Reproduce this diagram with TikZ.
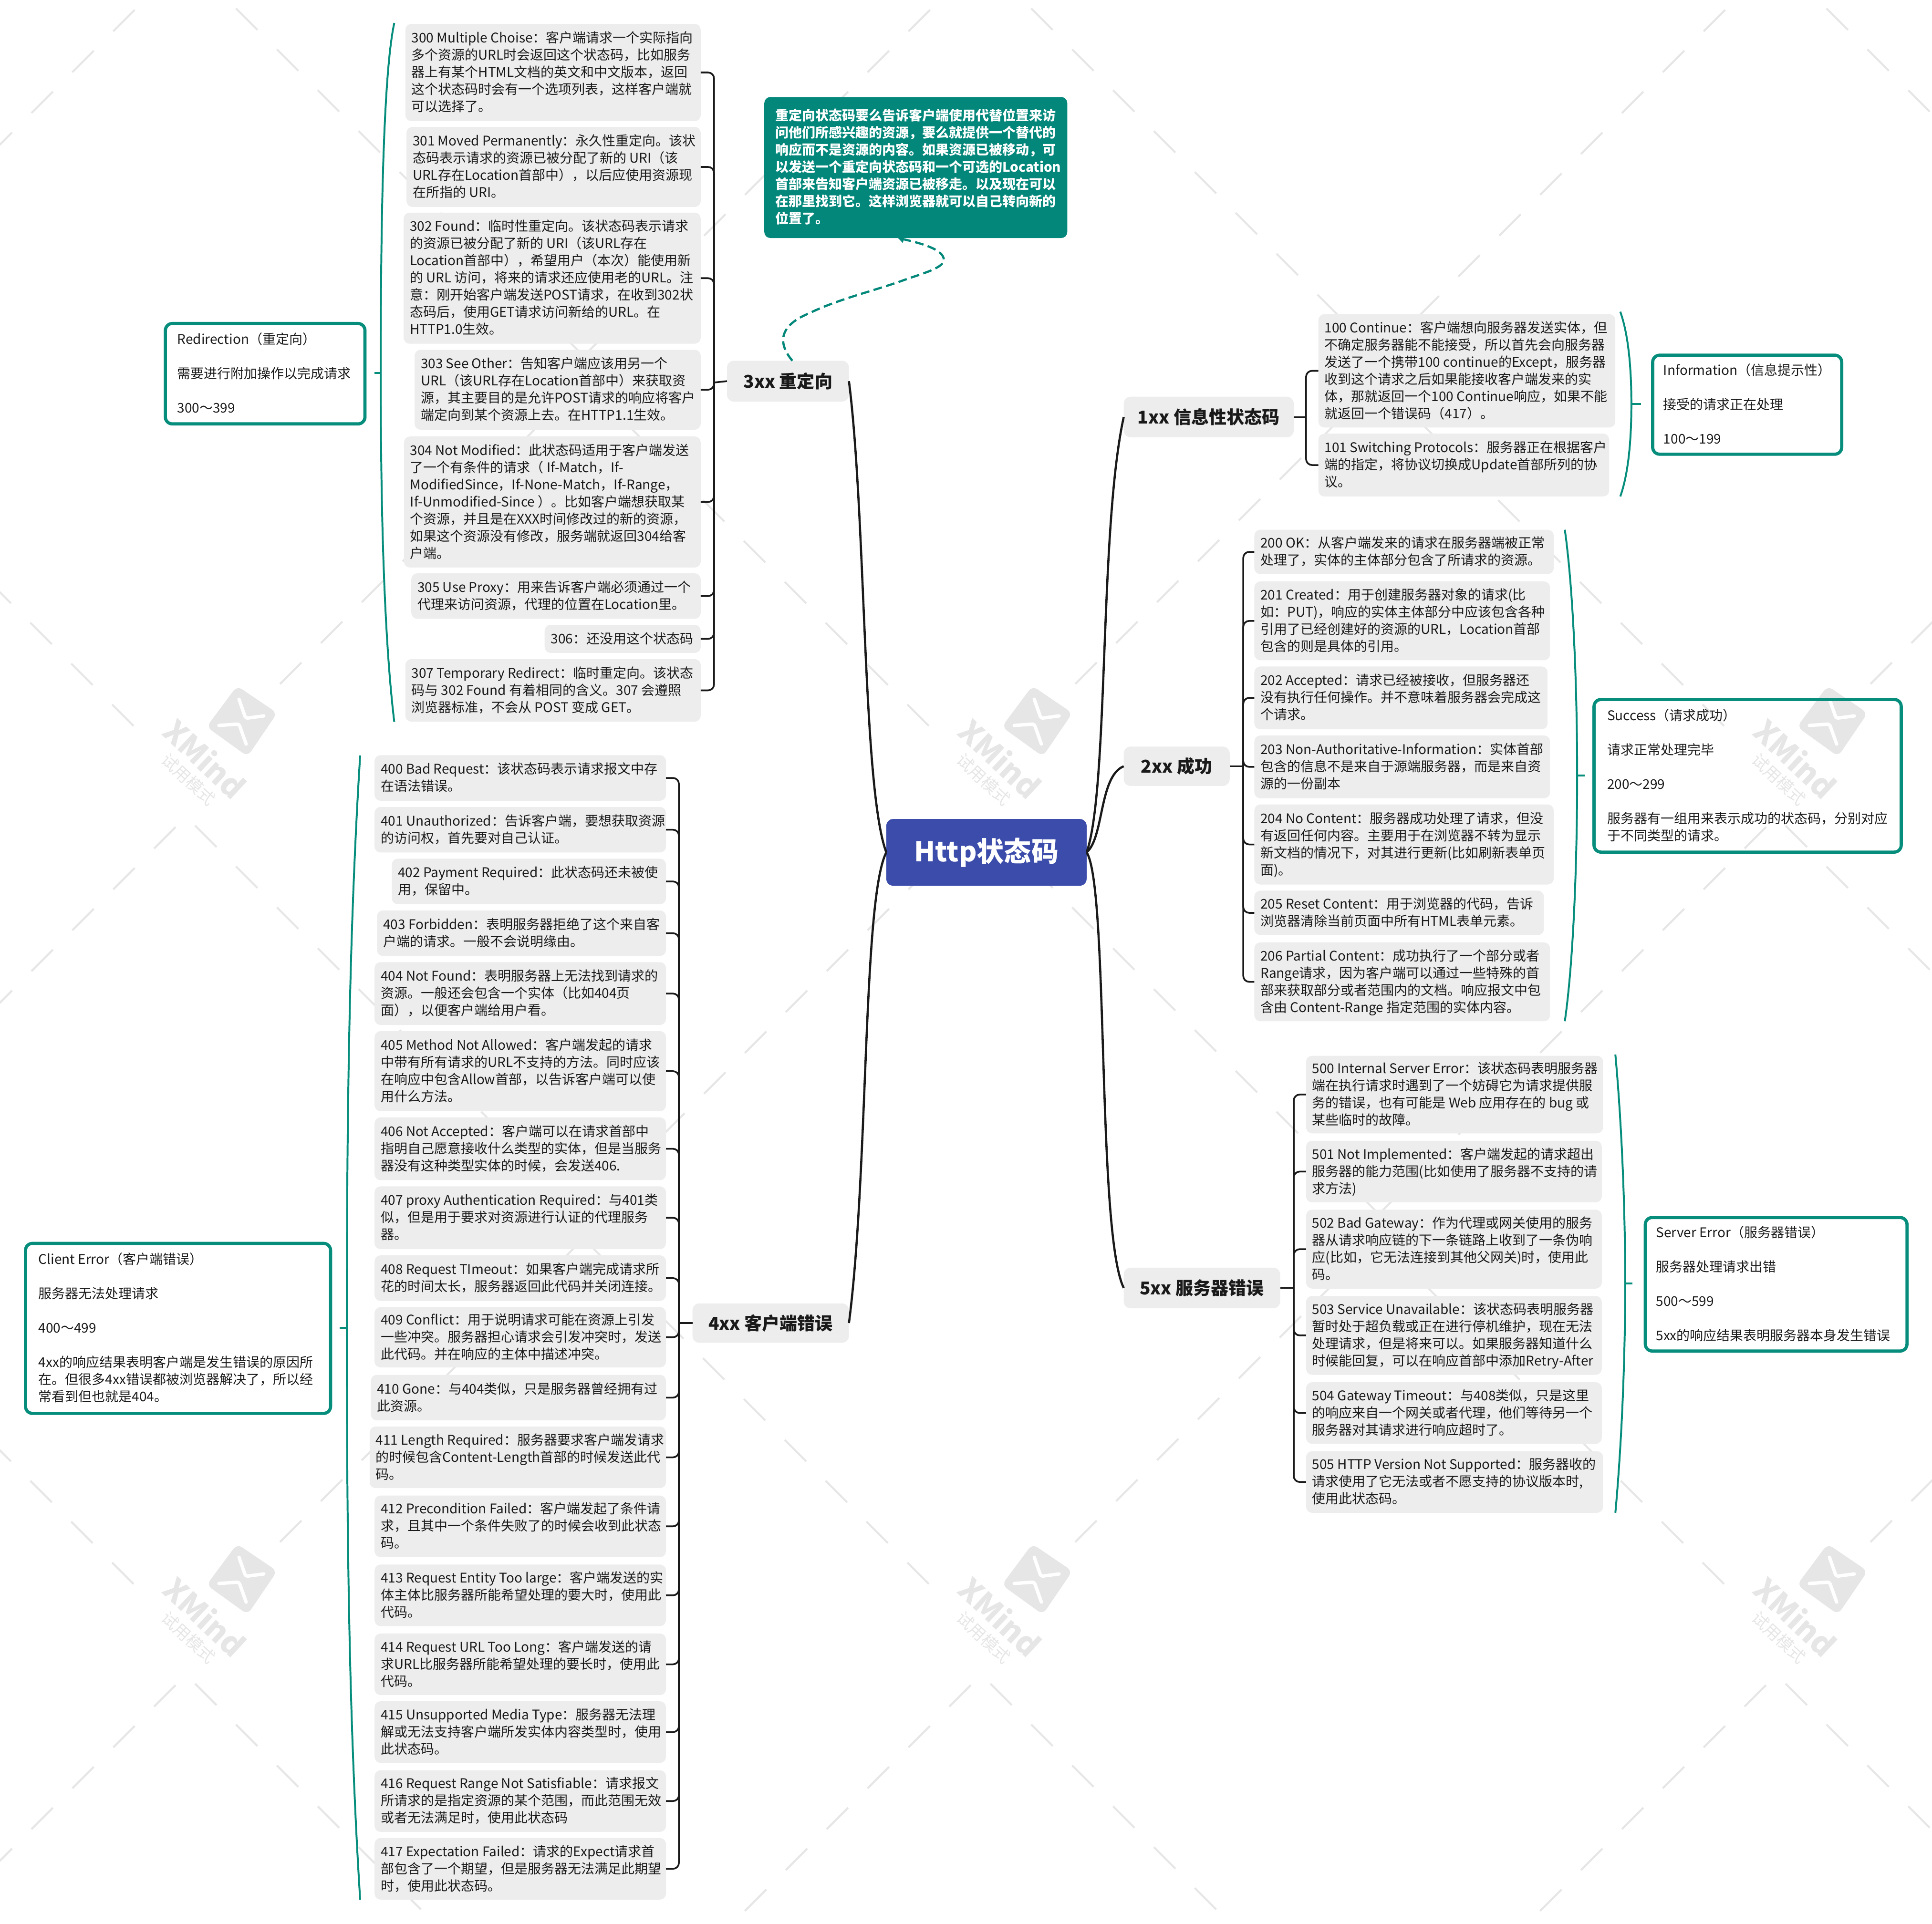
\documentclass[tikz,border=0pt]{standalone}
\usepackage{fontspec}
\setmainfont{Noto Sans CJK SC}
\usetikzlibrary{arrows.meta}
\definecolor{tealx}{HTML}{068D7C}
\definecolor{notebg}{HTML}{02877A}
\definecolor{leafbg}{HTML}{EDEDED}
\definecolor{ink}{HTML}{1A1A1A}
\definecolor{royal}{HTML}{3B4CAB}
\definecolor{wmgray}{HTML}{E6E6E6}
\tikzset{
  leafbox/.style={fill=leafbg,rounded corners=3pt,inner sep=0pt,outer sep=0pt,text=ink,font=\fontsize{6.72}{8.64}\selectfont},
  sumbox/.style={draw=tealx,line width=1.6pt,rounded corners=3.5pt,inner sep=0pt,outer sep=0pt,text=ink,font=\fontsize{6.72}{8.64}\selectfont},
  notebox/.style={fill=notebg,rounded corners=3pt,inner sep=0pt,outer sep=0pt,text=white,font=\bfseries\fontsize{6.72}{8.64}\selectfont},
  branchbox/.style={fill=leafbg,rounded corners=3.5pt,inner sep=0pt,outer sep=0pt,text=ink,font=\bfseries\fontsize{8.9}{11}\selectfont},
  rootbox/.style={fill=royal,rounded corners=3.5pt,inner sep=0pt,outer sep=0pt,text=white,font=\bfseries\fontsize{13.7}{16}\selectfont},
  mainlink/.style={draw=ink,line width=1.1pt},
  sublink/.style={draw=ink,line width=0.86pt,rounded corners=3pt},
  bracket/.style={draw=tealx,line width=0.95pt},
  wmline/.style={draw=wmgray,line width=1pt},
  relation/.style={draw=notebg,line width=1.1pt,dash pattern=on 4.4pt off 2.2pt},
}
\newcommand\tbox[8][5]{%
  \pgfmathsetmacro\boxcx{(#4+#6)/2}%
  \pgfmathsetmacro\boxcy{(#5+#7)/2}%
  \pgfmathsetlengthmacro\boxw{(#6-#4)*0.6199pt}%
  \pgfmathsetlengthmacro\boxh{(#7-#5)*0.6199pt}%
  \pgfmathsetlengthmacro\boxin{(#6-#4-2*#1)*0.6199pt}%
  \node[#2,minimum width=\boxw,minimum height=\boxh] (#3) at (\boxcx,\boxcy)
    {\vbox{\kern1.2pt\hbox{\makebox[\boxin][l]{\begin{tabular}{@{}l@{}}#8\end{tabular}}}}};%
}
\newcommand\cbox[7]{%
  \pgfmathsetmacro\boxcx{(#3+#5)/2}%
  \pgfmathsetmacro\boxcy{(#4+#6)/2}%
  \pgfmathsetlengthmacro\boxw{(#5-#3)*0.6199pt}%
  \pgfmathsetlengthmacro\boxh{(#6-#4)*0.6199pt}%
  \node[#1,minimum width=\boxw,minimum height=\boxh] (#2) at (\boxcx,\boxcy) {#7};%
}
\begin{document}
\begin{tikzpicture}[x=0.6199pt,y=-0.6199pt]
\useasboundingbox (0,0) rectangle (1568,1561.8);
% watermark
\begin{scope}[x=0.24pt,y=-0.24pt]
\clip (0,0) rectangle (4050,4034);
\foreach \cx in {390,2057,3724}{
  \foreach \ly in {-87,1712,3511}{
    \foreach \k in {0,...,9}{
      \draw[wmline] ({\cx+19+85.7*\k},{\ly+19+85.7*\k}) -- ++(45,45);
      \draw[wmline] ({\cx-22-85.7*\k},{\ly+22+85.7*\k}) -- ++(-45,45);
    }
  }
  \foreach \uy in {1632,3431}{
    \foreach \k in {0,...,8}{
      \draw[wmline] ({\cx-110-85.7*\k},{\uy-110-85.7*\k}) -- ++(-45,-45);
    }
    \foreach \k in {0,...,7}{
      \draw[wmline] ({\cx+197+85.7*\k},{\uy-198-85.7*\k}) -- ++(45,-45);
    }
    \pgfmathsetmacro\mx{\cx+117}
    \pgfmathsetmacro\my{\uy-120}
    \begin{scope}[shift={(\mx,\my)}]
      \fill[wmgray,rounded corners=3pt] (-10,-74) -- (74,-17) -- (12,74) -- (-74,12) -- cycle;
      \draw[white,line width=1.7pt,line cap=round,line join=round,rounded corners=1pt] (-6,-46) -- (8,-6) -- (46,-11);
      \draw[white,line width=1.7pt,line cap=round,line join=round,rounded corners=1pt] (-48,9) -- (-6,6) -- (9,48);
      \node[text=wmgray,rotate=-43,inner sep=0pt,font=\bfseries\fontsize{15.5}{16}\selectfont] (wmname\cx\uy) at (-77,78) {XMind};
      \node[text=wmgray,rotate=-43,inner sep=0pt,font=\fontsize{8.3}{10}\selectfont] (wmtag\cx\uy) at (-112,122) {试用模式};
    \end{scope}
  }
}
\end{scope}

% root and branches
\cbox{rootbox}{root}{719.3}{664.8}{881.9}{719}{Http状态码}
\cbox{branchbox}{bthree}{590}{292.8}{689}{326}{3xx 重定向}
\cbox{branchbox}{bfour}{562}{1058}{689}{1090}{4xx 客户端错误}
\cbox{branchbox}{bone}{912}{322}{1050}{355}{1xx 信息性状态码}
\cbox{branchbox}{btwo}{912}{606}{998}{638}{2xx 成功}
\cbox{branchbox}{bfive}{912}{1029}{1039}{1062}{5xx 服务器错误}

\draw[mainlink] (root.west) .. controls (700,640) and (703,420) .. (bthree.east);
\draw[mainlink] (root.west) .. controls (700,730) and (705,950) .. (bfour.east);
\draw[mainlink] (root.east) .. controls (900,640) and (892,430) .. (bone.west);
\draw[mainlink] (root.east) .. controls (896,680) and (892,630) .. (btwo.west);
\draw[mainlink] (root.east) .. controls (900,720) and (890,1000) .. (bfive.west);

% 3xx leaves
\tbox{leafbox}{l300}{329}{19.4}{568.7}{98.3}{300 Multiple Choise：客户端请求一个实际指向\\多个资源的URL时会返回这个状态码，比如服务\\器上有某个HTML文档的英文和中文版本，返回\\这个状态码时会有一个选项列表，这样客户端就\\可以选择了。}
\tbox{leafbox}{l301}{329.9}{103}{568.7}{168}{301 Moved Permanently：永久性重定向。该状\\态码表示请求的资源已被分配了新的 URI（该\\URL存在Location首部中），以后应使用资源现\\在所指的 URI。}
\tbox{leafbox}{l302}{327.6}{172.6}{568.7}{279}{302 Found：临时性重定向。该状态码表示请求\\的资源已被分配了新的 URI（该URL存在\\Location首部中），希望用户（本次）能使用新\\的 URL 访问，将来的请求还应使用老的URL。注\\意：刚开始客户端发送POST请求，在收到302状\\态码后，使用GET请求访问新给的URL。在\\HTTP1.0生效。}
\tbox{leafbox}{l303}{336.5}{283.9}{568.7}{348.8}{303 See Other：告知客户端应该用另一个\\URL（该URL存在Location首部中）来获取资\\源，其主要目的是允许POST请求的响应将客户\\端定向到某个资源上去。在HTTP1.1生效。}
\tbox{leafbox}{l304}{327.9}{354.3}{568.7}{460.7}{304 Not Modified：此状态码适用于客户端发送\\了一个有条件的请求（ If-Match，If-\\ModifiedSince，If-None-Match，If-Range，\\If-Unmodified-Since ）。比如客户端想获取某\\个资源，并且是在XXX时间修改过的新的资源，\\如果这个资源没有修改，服务端就返回304给客\\户端。}
\tbox{leafbox}{l305}{333.8}{465.4}{568.7}{502.3}{305 Use Proxy：用来告诉客户端必须通过一个\\代理来访问资源，代理的位置在Location里。}
\tbox{leafbox}{l306}{442}{507.2}{568.7}{530}{306：还没用这个状态码}
\tbox{leafbox}{l307}{329}{535}{568.7}{585.8}{307 Temporary Redirect：临时重定向。该状态\\码与 302 Found 有着相同的含义。307 会遵照\\浏览器标准，不会从 POST 变成 GET。}
\coordinate (hthree) at (579.5,310.5);
\foreach \n in {l300,l301,l302,l303,l304,l305,l306,l307}{\draw[sublink] (\n.east) -| (hthree);}
\draw[sublink] (hthree) -- (bthree.west);

% note
\tbox[9]{notebox}{note}{620.3}{78.8}{866.2}{193.2}{重定向状态码要么告诉客户端使用代替位置来访\\问他们所感兴趣的资源，要么就提供一个替代的\\响应而不是资源的内容。如果资源已被移动，可\\以发送一个重定向状态码和一个可选的Location\\首部来告知客户端资源已被移走。以及现在可以\\在那里找到它。这样浏览器就可以自己转向新的\\位置了。}
\draw[relation,-{Triangle[length=3pt,width=3.6pt,fill=notebg]}] ([xshift=2.2pt]bthree.north) .. controls (634,282) and (628,266) .. (656.9,254.2) .. controls (680,243) and (706,237) .. (731,228.3) .. controls (745,223) and (766,218) .. (766,211) .. controls (766,203) and (750,198) .. ([xshift=-9pt]note.south);

% redirection summary
\tbox[9.7]{sumbox}{sthree}{134.2}{262.6}{296.2}{344.1}{Redirection（重定向）\\\\需要进行附加操作以完成请求\\\\300～399}
\coordinate (bkthree) at (309,302.7);
\coordinate (tkthree) at (304,302.7);
\draw[bracket] (320,18.6) .. controls (311,60) and (309,180) .. (bkthree) .. controls (309,420) and (312,520) .. (320,586);
\draw[bracket] (bkthree) -- (tkthree);

% 1xx
\tbox{leafbox}{l100}{1070}{255}{1311}{347}{100 Continue：客户端想向服务器发送实体，但\\不确定服务器能不能接受，所以首先会向服务器\\发送了一个携带100 continue的Except，服务器\\收到这个请求之后如果能接收客户端发来的实\\体，那就返回一个100 Continue响应，如果不能\\就返回一个错误码（417）。}
\tbox{leafbox}{l101}{1070}{352}{1306}{403}{101 Switching Protocols：服务器正在根据客户\\端的指定，将协议切换成Update首部所列的协\\议。}
\coordinate (hone) at (1060,338.5);
\foreach \n in {l100,l101}{\draw[sublink] (\n.west) -| (hone);}
\draw[sublink] (hone) -- (bone.east);
\tbox[8.7]{sumbox}{sone}{1341.3}{288.3}{1494.7}{368.7}{Information（信息提示性）\\\\接受的请求正在处理\\\\100～199}
\coordinate (bkone) at (1324,328);
\coordinate (tkone) at (1332,328);
\draw[bracket] (1315,253) .. controls (1321,270) and (1324,295) .. (bkone) .. controls (1324,361) and (1321,386) .. (1315,403);
\draw[bracket] (bkone) -- (tkone);

% 2xx
\tbox{leafbox}{l200}{1018}{430}{1261}{466}{200 OK：从客户端发来的请求在服务器端被正常\\处理了，实体的主体部分包含了所请求的资源。}
\tbox{leafbox}{l201}{1018}{472}{1258}{536}{201 Created：用于创建服务器对象的请求(比\\如：PUT)，响应的实体主体部分中应该包含各种\\引用了已经创建好的资源的URL，Location首部\\包含的则是具体的引用。}
\tbox{leafbox}{l202}{1018}{541}{1256}{592}{202 Accepted：请求已经被接收，但服务器还\\没有执行任何操作。并不意味着服务器会完成这\\个请求。}
\tbox{leafbox}{l203}{1018}{597}{1258}{648}{203 Non-Authoritative-Information：实体首部\\包含的信息不是来自于源端服务器，而是来自资\\源的一份副本}
\tbox{leafbox}{l204}{1018}{653}{1261}{718}{204 No Content：服务器成功处理了请求，但没\\有返回任何内容。主要用于在浏览器不转为显示\\新文档的情况下，对其进行更新(比如刷新表单页\\面)。}
\tbox{leafbox}{l205}{1018}{723}{1253}{759}{205 Reset Content：用于浏览器的代码，告诉\\浏览器清除当前页面中所有HTML表单元素。}
\tbox{leafbox}{l206}{1018}{765}{1258}{829}{206 Partial Content：成功执行了一个部分或者\\Range请求，因为客户端可以通过一些特殊的首\\部来获取部分或者范围内的文档。响应报文中包\\含由 Content-Range 指定范围的实体内容。}
\coordinate (htwo) at (1009,622);
\foreach \n in {l200,l201,l202,l203,l204,l205,l206}{\draw[sublink] (\n.west) -| (htwo);}
\draw[sublink] (htwo) -- (btwo.east);
\tbox[10.7]{sumbox}{stwo}{1293.7}{567.8}{1543}{691.7}{Success（请求成功）\\\\请求正常处理完毕\\\\200～299\\\\服务器有一组用来表示成功的状态码，分别对应\\于不同类型的请求。}
\coordinate (bktwo) at (1280,629.5);
\coordinate (tktwo) at (1286,629.5);
\draw[bracket] (1270,430) .. controls (1277,480) and (1280,560) .. (bktwo) .. controls (1280,700) and (1277,780) .. (1270,829);
\draw[bracket] (bktwo) -- (tktwo);

% 5xx
\tbox{leafbox}{l500}{1060}{857}{1301}{920}{500 Internal Server Error：该状态码表明服务器\\端在执行请求时遇到了一个妨碍它为请求提供服\\务的错误，也有可能是 Web 应用存在的 bug 或\\某些临时的故障。}
\tbox{leafbox}{l501}{1060}{926}{1300}{976}{501 Not Implemented：客户端发起的请求超出\\服务器的能力范围(比如使用了服务器不支持的请\\求方法)}
\tbox{leafbox}{l502}{1060}{982}{1300}{1046}{502 Bad Gateway：作为代理或网关使用的服务\\器从请求响应链的下一条链路上收到了一条伪响\\应(比如，它无法连接到其他父网关)时，使用此\\码。}
\tbox{leafbox}{l503}{1060}{1052}{1300}{1116}{503 Service Unavailable：该状态码表明服务器\\暂时处于超负载或正在进行停机维护，现在无法\\处理请求，但是将来可以。如果服务器知道什么\\时候能回复，可以在响应首部中添加Retry-After}
\tbox{leafbox}{l504}{1060}{1122}{1300}{1172}{504 Gateway Timeout：与408类似，只是这里\\的响应来自一个网关或者代理，他们等待另一个\\服务器对其请求进行响应超时了。}
\tbox{leafbox}{l505}{1060}{1178}{1301}{1228}{505 HTTP Version Not Supported：服务器收的\\请求使用了它无法或者不愿支持的协议版本时,\\使用此状态码。}
\coordinate (hfive) at (1050,1045.5);
\foreach \n in {l500,l501,l502,l503,l504,l505}{\draw[sublink] (\n.west) -| (hfive);}
\draw[sublink] (hfive) -- (bfive.east);
\tbox[8.7]{sumbox}{sfive}{1335.3}{988.3}{1547.7}{1096.7}{Server Error（服务器错误）\\\\服务器处理请求出错\\\\500～599\\\\5xx的响应结果表明服务器本身发生错误}
\coordinate (bkfive) at (1319,1042);
\coordinate (tkfive) at (1325,1042);
\draw[bracket] (1311,856) .. controls (1316,910) and (1319,980) .. (bkfive) .. controls (1319,1104) and (1316,1174) .. (1311,1228);
\draw[bracket] (bkfive) -- (tkfive);

% 4xx
\tbox{leafbox}{l400}{304}{613}{540.5}{650}{400 Bad Request：该状态码表示请求报文中存\\在语法错误。}
\tbox{leafbox}{l401}{304}{655}{540.5}{692}{401 Unauthorized：告诉客户端，要想获取资源\\的访问权，首先要对自己认证。}
\tbox{leafbox}{l402}{318}{697}{540.5}{734}{402 Payment Required：此状态码还未被使\\用，保留中。}
\tbox{leafbox}{l403}{306}{739}{540.5}{776}{403 Forbidden：表明服务器拒绝了这个来自客\\户端的请求。一般不会说明缘由。}
\tbox{leafbox}{l404}{304}{781}{540.5}{832}{404 Not Found：表明服务器上无法找到请求的\\资源。一般还会包含一个实体（比如404页\\面），以便客户端给用户看。}
\tbox{leafbox}{l405}{304}{837}{540.5}{902}{405 Method Not Allowed：客户端发起的请求\\中带有所有请求的URL不支持的方法。同时应该\\在响应中包含Allow首部，以告诉客户端可以使\\用什么方法。}
\tbox{leafbox}{l406}{304}{907}{540.5}{958}{406 Not Accepted：客户端可以在请求首部中\\指明自己愿意接收什么类型的实体，但是当服务\\器没有这种类型实体的时候，会发送406.}
\tbox{leafbox}{l407}{304}{963}{540.5}{1014}{407 proxy Authentication Required：与401类\\似，但是用于要求对资源进行认证的代理服务\\器。}
\tbox{leafbox}{l408}{304}{1019}{540.5}{1056}{408 Request TImeout：如果客户端完成请求所\\花的时间太长，服务器返回此代码并关闭连接。}
\tbox{leafbox}{l409}{304}{1061}{540.5}{1110}{409 Conflict：用于说明请求可能在资源上引发\\一些冲突。服务器担心请求会引发冲突时，发送\\此代码。并在响应的主体中描述冲突。}
\tbox{leafbox}{l410}{301}{1116}{540.5}{1153}{410 Gone：与404类似，只是服务器曾经拥有过\\此资源。}
\tbox{leafbox}{l411}{300}{1158}{540.5}{1208}{411 Length Required：服务器要求客户端发请求\\的时候包含Content-Length首部的时候发送此代\\码。}
\tbox{leafbox}{l412}{304}{1214}{540.5}{1264}{412 Precondition Failed：客户端发起了条件请\\求，且其中一个条件失败了的时候会收到此状态\\码。}
\tbox{leafbox}{l413}{304}{1270}{540.5}{1320}{413 Request Entity Too large：客户端发送的实\\体主体比服务器所能希望处理的要大时，使用此\\代码。}
\tbox{leafbox}{l414}{304}{1326}{540.5}{1376}{414 Request URL Too Long：客户端发送的请\\求URL比服务器所能希望处理的要长时，使用此\\代码。}
\tbox{leafbox}{l415}{304}{1381}{540.5}{1431}{415 Unsupported Media Type：服务器无法理\\解或无法支持客户端所发实体内容类型时，使用\\此状态码。}
\tbox{leafbox}{l416}{304}{1437}{540.5}{1487}{416 Request Range Not Satisfiable：请求报文\\所请求的是指定资源的某个范围，而此范围无效\\或者无法满足时，使用此状态码}
\tbox{leafbox}{l417}{304}{1492}{540.5}{1542}{417 Expectation Failed：请求的Expect请求首\\部包含了一个期望，但是服务器无法满足此期望\\时，使用此状态码。}
\coordinate (hfour) at (551,1074);
\foreach \n in {l400,l401,l402,l403,l404,l405,l406,l407,l408,l409,l410,l411,l412,l413,l414,l415,l416,l417}{\draw[sublink] (\n.east) -| (hfour);}
\draw[sublink] (hfour) -- (bfour.west);
\tbox[10.5]{sumbox}{sfour}{20.7}{1009.3}{268.3}{1147.3}{Client Error（客户端错误）\\\\服务器无法处理请求\\\\400～499\\\\4xx的响应结果表明客户端是发生错误的原因所\\在。但很多4xx错误都被浏览器解决了，所以经\\常看到但也就是404。}
\coordinate (bkfour) at (281.5,1078);
\coordinate (tkfour) at (275.5,1078);
\draw[bracket] (292.3,613.3) .. controls (283,760) and (281.5,920) .. (bkfour) .. controls (281.5,1236) and (283,1396) .. (292.3,1542);
\draw[bracket] (bkfour) -- (tkfour);
\end{tikzpicture}
\end{document}
